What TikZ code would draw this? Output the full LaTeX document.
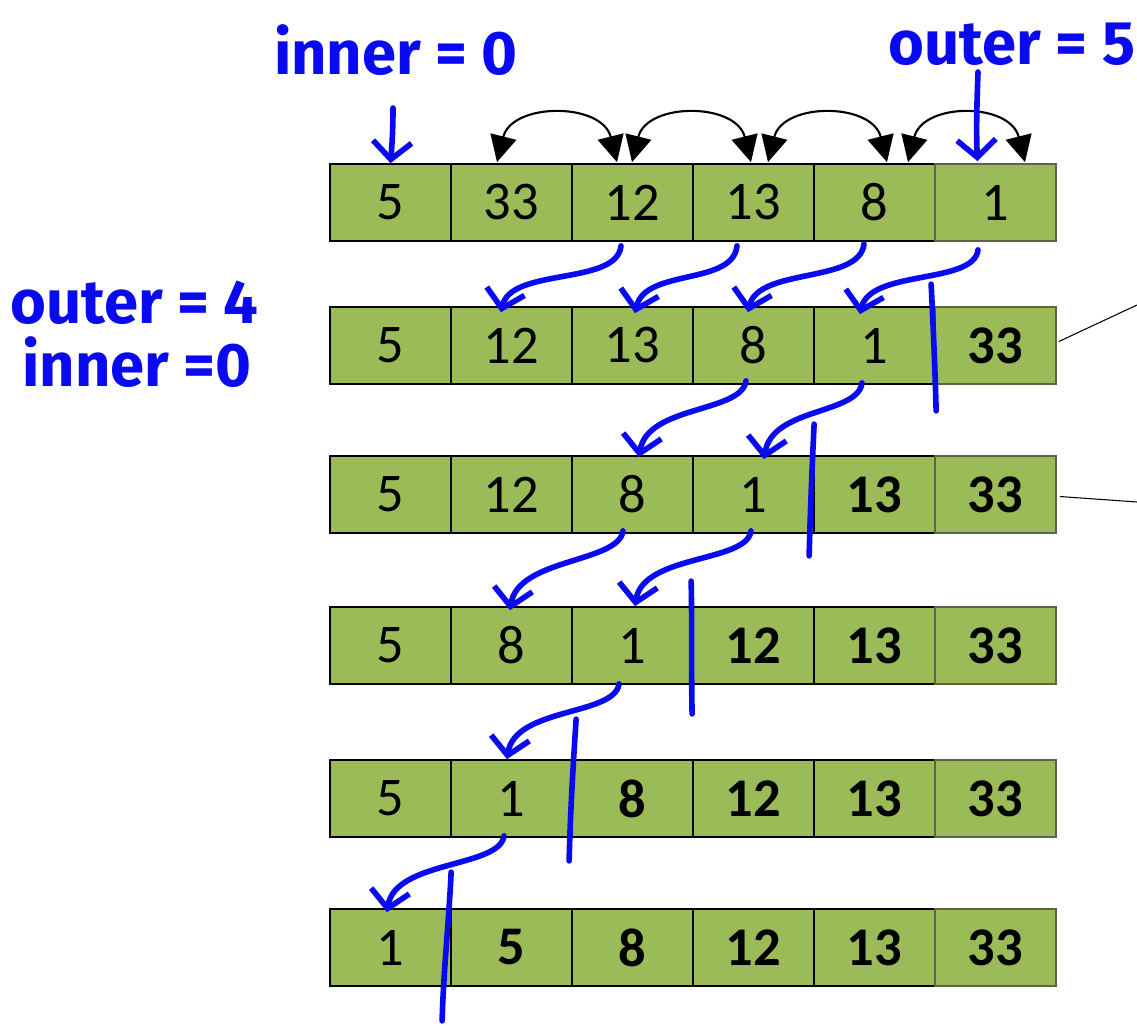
\documentclass[tikz,border=0pt]{standalone}
\usepackage{fontspec}
\setmainfont{Carlito}
\newfontfamily\handfont{Fira Sans}
\usetikzlibrary{arrows.meta}
\definecolor{cellgreen}{HTML}{9BBB59}
\definecolor{lastborder}{RGB}{90,100,70}
\definecolor{inkblue}{HTML}{0A0AF0}
\begin{document}
\begin{tikzpicture}[x=0.02cm,y=-0.02cm,
  cell/.style={draw=black,line width=1pt,fill=cellgreen,minimum width=2.42cm,minimum height=1.54cm,inner sep=0pt,font=\fontsize{31}{36}\selectfont},
  bcell/.style={cell,font=\fontsize{31}{36}\selectfont\bfseries},
  cellL/.style={cell,draw=lastborder},
  bcellL/.style={bcell,draw=lastborder},
  hand/.style={text=inkblue,inner sep=0pt,font=\handfont\fontsize{35}{40}\selectfont\bfseries},
  harrow/.style={draw=inkblue,line width=3.2pt,line cap=round,line join=round,-{Straight Barb[length=10pt,width=22pt]}},
  hbar/.style={draw=inkblue,line width=3.2pt,line cap=round},
  swap/.style={draw=black,line width=1.2pt,{Triangle[length=15pt,width=15pt]}-{Triangle[length=15pt,width=15pt]}},
  callout/.style={draw=black,line width=0.6pt}]
\useasboundingbox (0,0) rectangle (1137,1028);

% rows of cells
\foreach \v/\st [count=\c] in {5/cell,33/cell,12/cell,13/cell,8/cell,1/cellL}
  \node[\st] (r1c\c) at ({390.5+121*(\c-1)},202.5) {\v};
\foreach \v/\st [count=\c] in {5/cell,12/cell,13/cell,8/cell,1/cell,33/bcellL}
  \node[\st] (r2c\c) at ({390.5+121*(\c-1)},345.5) {\v};
\foreach \v/\st [count=\c] in {5/cell,12/cell,8/cell,1/cell,13/bcell,33/bcellL}
  \node[\st] (r3c\c) at ({390.5+121*(\c-1)},494.5) {\v};
\foreach \v/\st [count=\c] in {5/cell,8/cell,1/cell,12/bcell,13/bcell,33/bcellL}
  \node[\st] (r4c\c) at ({390.5+121*(\c-1)},645.5) {\v};
\foreach \v/\st [count=\c] in {5/cell,1/cell,8/bcell,12/bcell,13/bcell,33/bcellL}
  \node[\st] (r5c\c) at ({390.5+121*(\c-1)},798.5) {\v};
\foreach \v/\st [count=\c] in {1/cell,5/bcell,8/bcell,12/bcell,13/bcell,33/bcellL}
  \node[\st] (r6c\c) at ({390.5+121*(\c-1)},947.5) {\v};

% swap arcs on the first row
\draw[swap] ([shift={(-14.5,-1)}]r1c2.north) .. controls +(15,-60) and +(-15,-60) .. ([shift={(-15.5,-1)}]r1c3.north);
\draw[swap] ([shift={(-0.5,-1)}]r1c3.north) .. controls +(15,-60) and +(-15,-60) .. ([shift={(-2.5,-1)}]r1c4.north);
\draw[swap] ([shift={(14.5,-1)}]r1c4.north) .. controls +(15,-60) and +(-15,-60) .. ([shift={(12.5,-1)}]r1c5.north);
\draw[swap] ([shift={(33.5,-1)}]r1c5.north) .. controls +(15,-60) and +(-15,-60) .. ([shift={(29.5,-1)}]r1c6.north);

% handwritten labels
\node[hand] (lblInnerTop) at (396,50) {inner = 0};
\node[hand] (lblOuterTop) at (1012,44) {outer = 5};
\node[hand, anchor=west] (lblOuterLeft) at (10,303) {outer = 4};
\node[hand, anchor=west] (lblInnerLeft) at (22,362) {inner =0};

\coordinate (innerTail) at (393,108);
\coordinate (outerTail) at (978,72);
\draw[harrow] (innerTail) .. controls (393,130) and (392,145) .. (r1c1.north);
\draw[harrow] (outerTail) .. controls (977,100) and (976,130) .. ([shift={(-18,-2)}]r1c6.north);

% moves row 1 -> row 2
\draw[harrow] ([shift={(-11.5,4)}]r1c3.south) .. controls +(-4,40) and +(10,-45) .. ([shift={(-10.5,6)}]r2c2.north);
\draw[harrow] ([shift={(-16.5,4)}]r1c4.south) .. controls +(-4,40) and +(10,-45) .. ([shift={(2.5,7)}]r2c3.north);
\draw[harrow] ([shift={(-10.5,2)}]r1c5.south) .. controls +(-4,40) and +(10,-45) .. ([shift={(-5.5,6)}]r2c4.north);
\draw[harrow] ([shift={(-17.5,8)}]r1c6.south) .. controls +(-4,35) and +(10,-45) .. ([shift={(-14.5,8)}]r2c5.north);
% row 2 -> row 3
\draw[harrow] ([shift={(-7.5,-4)}]r2c4.south) .. controls +(-4,32) and +(8,-52) .. ([shift={(6.5,2)}]r3c3.north);
\draw[harrow] ([shift={(-12.5,-2)}]r2c5.south) .. controls +(-4,32) and +(8,-52) .. ([shift={(10.5,4)}]r3c4.north);
% row 3 -> row 4
\draw[harrow] ([shift={(-9.5,-3)}]r3c3.south) .. controls +(-4,32) and +(8,-52) .. ([shift={(-1.5,4)}]r4c2.north);
\draw[harrow] ([shift={(-2.5,-3)}]r3c4.south) .. controls +(-4,32) and +(8,-52) .. ([shift={(2.5,0)}]r4c3.north);
% row 4 -> row 5
\draw[harrow] ([shift={(-13.5,-1)}]r4c3.south) .. controls +(-4,32) and +(8,-52) .. ([shift={(-4.5,0)}]r5c2.north);
% row 5 -> row 6
\draw[harrow] ([shift={(-7.5,-2)}]r5c2.south) .. controls +(-4,32) and +(8,-52) .. ([shift={(-3.5,4)}]r6c1.north);

% handwritten boundary bars
\draw[hbar] ([shift={(-3,-22)}]r2c6.north west) .. controls +(2,40) and +(-1,-40) .. ([shift={(2,26)}]r2c6.south west);
\draw[hbar] ([shift={(1,-31)}]r3c5.north west) .. controls +(-2,40) and +(1,-40) .. ([shift={(-4,22)}]r3c5.south west);
\draw[hbar] ([shift={(-1,-25)}]r4c4.north west) .. controls +(1,40) and +(-1,-40) .. ([shift={(0,29)}]r4c4.south west);
\draw[hbar] ([shift={(5,-40)}]r5c3.north west) .. controls +(-3,45) and +(1,-45) .. ([shift={(-2,23)}]r5c3.south west);
\draw[hbar] ([shift={(1,-36)}]r6c2.north west) .. controls +(-2,45) and +(1,-45) .. ([shift={(-8,34)}]r6c2.south west);

% callout lines leaving to the right
\coordinate (calloutA) at (1137,305);
\coordinate (calloutB) at (1137,502);
\draw[callout] ([shift={(2,-4)}]r2c6.east) -- (calloutA);
\draw[callout] ([shift={(3,2)}]r3c6.east) -- (calloutB);
\end{tikzpicture}
\end{document}
